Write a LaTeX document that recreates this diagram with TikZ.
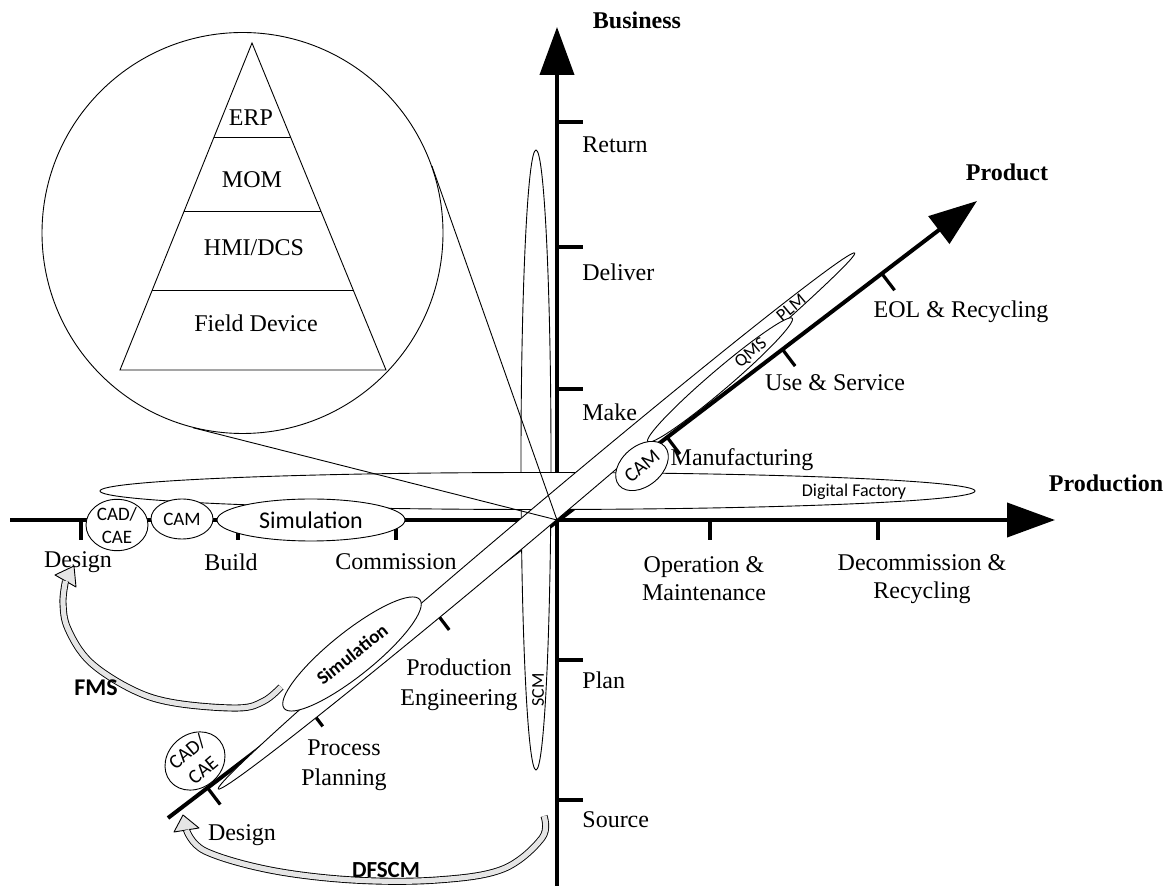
\documentclass[tikz,border=0pt]{standalone}
\usepackage{fontspec}
\setmainfont{Liberation Serif}
\newfontfamily\carlito{Carlito}
\usetikzlibrary{arrows.meta,shapes.geometric,calc}
\begin{document}
\begin{tikzpicture}[x=0.5pt,y=-0.5pt,
  axisline/.style={line width=2pt,-{Triangle[length=24pt,width=17pt]}},
  tickmark/.style={line width=1.6pt},
  fine/.style={line width=0.45pt},
  lab/.style={font=\fontsize{12}{14}\selectfont, inner sep=0pt, align=center},
  axlab/.style={font=\fontsize{12}{14}\selectfont\bfseries, inner sep=0pt},
  tool/.style={ellipse, draw, fill=white, line width=0.45pt, inner sep=0pt,
               font=\carlito\fontsize{9.5}{11.5}\selectfont, align=center},
  tooltext/.style={inner sep=0pt, font=\carlito\fontsize{9}{11}\selectfont},
  bigarrow/.style={double=gray!20, double distance=2.6pt, line width=0.45pt},
  bighead/.style={fill=gray!20, line width=0.45pt, line join=round},
]
\fill[white] (0,0) rectangle (1173,886);
\useasboundingbox (0,0) rectangle (1173,886);

% ---------- automation pyramid inside the lens ----------
\node[circle, draw, fine, minimum size=200.5pt, inner sep=0pt] (lens) at (242.5,233) {};
\coordinate (apex) at (252,43);
\coordinate (bl) at (120,370);
\coordinate (br) at (386,370);
\draw[fine] (apex) -- (bl) -- (br) -- cycle;
\foreach \f in {0.2875,0.5138,0.7554}
  \draw[fine] ($(apex)!\f!(bl)$) -- ($(apex)!\f!(br)$);
\node[lab] (erp) at (251,118) {ERP};
\node[lab] (mom) at (252,180) {MOM};
\node[lab] (hmi) at (254,248) {HMI/DCS};
\node[lab] (fd)  at (256,323) {Field Device};

% ---------- axes ----------
\coordinate (O) at (557,520);
\coordinate (hx0) at (10,520);  \coordinate (hx1) at (1055,520);
\coordinate (vy0) at (557,886); \coordinate (vy1) at (557,27);
\coordinate (pA) at (168,818);  \coordinate (pB) at (977,201);
\draw[axisline] (hx0) -- (hx1);
\draw[axisline] (vy0) -- (vy1);
\draw[axisline] (pA) -- (pB);
\foreach \x in {81,238,396,710,878}
  \draw[tickmark] (\x,520) -- (\x,540);
\foreach \y in {122,247,389,660,800}
  \draw[tickmark] (557,\y) -- (583,\y);
\foreach \f in {0.0489,0.1756,0.3319,0.617,0.7595,0.8824}
  \draw[tickmark] ($(pA)!\f!(pB)$) -- ++(12.7,16.7);

% ---------- tool envelopes ----------
\node[tool, minimum width=15pt, minimum height=310pt] (scm) at (536,460) {};
\node[tool, minimum width=437.5pt, minimum height=18.5pt] (df) at (537.5,491) {};
\node[tool, rotate=40.1, minimum width=416pt, minimum height=12pt] (plm) at (536.5,521) {};

\node[tool, minimum width=31pt, minimum height=20pt] (cad1) at (117,525) {CAD/\\CAE};
\node[tool, minimum width=31pt, minimum height=20pt] (cam1) at (182,519) {CAM};
\node[tool, minimum width=94pt, minimum height=21pt,
      font=\carlito\fontsize{12}{13}\selectfont] (sim1) at (311,520) {Simulation};

\node[tool, rotate=38.7, minimum width=87pt, minimum height=22pt,
      font=\carlito\bfseries\fontsize{9.5}{11}\selectfont] (sim2) at (352,654) {Simulation};
\node[tool, rotate=40, minimum width=32pt, minimum height=20pt,
      font=\carlito\fontsize{10}{12}\selectfont] (cad2) at (195,761) {CAD/\\CAE};
\node[tool, rotate=40.5, minimum width=95pt, minimum height=10pt] (qms) at (720,380) {};
\node[tool, rotate=40, minimum width=30pt, minimum height=20pt,
      font=\carlito\fontsize{10}{12}\selectfont] (cam2) at (642,466) {CAM};

\node[tooltext] (dflab) at (854,492) {Digital Factory};
\node[tooltext, rotate=90] (scmlab) at (538,690) {SCM};
\node[tooltext, rotate=40] (plmlab) at (791,308) {PLM};
\node[tooltext, rotate=40] (qmslab) at (751,353) {QMS};

% ---------- lens projection lines ----------
\draw[fine] (O) -- (tangent cs:node=lens,point={(O)},solution=1);
\draw[fine] (O) -- (tangent cs:node=lens,point={(O)},solution=2);

% ---------- feedback arrows ----------
\coordinate (fmsTail) at (281,687);
\coordinate (fmsEnd) at (65.5,581);
\draw[bighead] (74,566) -- (55,575) -- (76,587) -- cycle;
\draw[bigarrow] plot[smooth, tension=0.6] coordinates
  {(fmsTail) (264,701) (238,708) (175,703) (133,690) (90,662) (68,629) (63,603) (fmsEnd)};

\coordinate (dfsTail) at (544,816);
\coordinate (dfsEnd) at (186.5,830);
\draw[bighead] (183,815) -- (174,832) -- (199,828) -- cycle;
\draw[bigarrow] plot[smooth, tension=0.6] coordinates
  {(dfsTail) (542,838) (503,869) (437,880) (353,880) (270,870) (205,851) (dfsEnd)};

\node[font=\carlito\bfseries\fontsize{12}{13}\selectfont, inner sep=0pt] (fms) at (96,688) {FMS};
\node[font=\carlito\bfseries\fontsize{11.5}{13}\selectfont, inner sep=0pt] (dfscm) at (386,870) {DFSCM};

% ---------- axis titles ----------
\node[axlab] (business) at (637,20) {Business};
\node[axlab] (product) at (1007,172) {Product};
\node[axlab] (production) at (1106,483) {Production};

% ---------- production axis labels ----------
\node[lab] at (78,562) {Design};
\node[lab] at (231,562) {Build};
\node[lab] at (396,562) {Commission};
\node[lab] at (704,579) {Operation \&\\Maintenance};
\node[lab] at (922,579) {Decommission \&\\Recycling};

% ---------- business axis labels ----------
\node[lab, anchor=west] at (582,145) {Return};
\node[lab, anchor=west] at (582,272) {Deliver};
\node[lab, anchor=west] at (582,412) {Make};
\node[lab, anchor=west] at (582,680) {Plan};
\node[lab, anchor=west] at (582,820) {Source};

% ---------- product axis labels ----------
\node[lab] at (961,312) {EOL \& Recycling};
\node[lab] at (835,383) {Use \& Service};
\node[lab] at (742,460) {Manufacturing};
\node[lab, font=\fontsize{12}{15}\selectfont] at (459,685) {Production\\Engineering};
\node[lab, font=\fontsize{12}{15}\selectfont] at (344,765) {Process\\Planning};
\node[lab] at (242,835) {Design};
\end{tikzpicture}
\end{document}
